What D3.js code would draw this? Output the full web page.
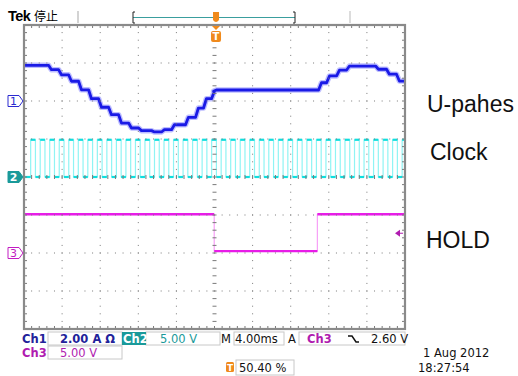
<!DOCTYPE html>
<html>
<head>
<meta charset="utf-8">
<script src="https://cdn.jsdelivr.net/npm/d3@7"></script>
<style>
  body { margin: 0; background: #fff; }
  svg { display: block; }
</style>
</head>
<body>
<div id="scope"></div>
<script>
// ---- data ----
// Ch1 : U phase current (A), sampled / stepped
var ch1Time = [0, 2.73, 3.78, 4.83, 5.88, 6.93, 7.98, 9.03, 10.08, 11.13, 12.18, 13.54, 14.59,
               15.64, 17.11, 18.16, 19.0, 19.84, 20.05, 31.08, 31.92, 32.97, 34.02, 37.06, 38.21, 39.26, 40];
var ch1Amp  = [1.88, 1.65, 1.38, 1.04, 0.59, 0.12, -0.33, -0.72, -1.16, -1.42, -1.56, -1.63, -1.51,
               -1.25, -0.86, -0.37, 0.12, 0.51, 0.58, 0.96, 1.32, 1.63, 1.84, 1.67, 1.41, 1.05, 1.05];
// Ch2 : clock edges (ms) and levels (V)
var ch2Rise = [0.7, 1.7, 2.7, 3.7, 4.7, 5.7, 6.7, 7.7, 8.7, 9.7, 10.7, 11.7, 12.7, 13.7, 14.7, 15.7, 16.7, 17.7, 18.7, 19.7,
               20.7, 21.7, 22.7, 23.7, 24.7, 25.7, 26.7, 27.7, 28.7, 29.7, 30.7, 31.7, 32.7, 33.7, 34.7, 35.7, 36.7, 37.7, 38.7, 39.7];
var ch2Fall = [1.2, 2.2, 3.2, 4.2, 5.2, 6.2, 7.2, 8.2, 9.2, 10.2, 11.2, 12.2, 13.2, 14.2, 15.2, 16.2, 17.2, 18.2, 19.2, 20.2,
               21.2, 22.2, 23.2, 24.2, 25.2, 26.2, 27.2, 28.2, 29.2, 30.2, 31.2, 32.2, 33.2, 34.2, 35.2, 36.2, 37.2, 38.2, 39.2, 40.2];
var ch2Low = 0, ch2High = 4.9;
// Ch3 : HOLD (V)
var ch3Time = [0, 19.97, 30.8, 40];
var ch3Volt = [5.1, 0.25, 5.1, 5.1];

var chScale = [2, 5, 5];       // units per division
var chOffset = [2, 0, -2];     // ground marker, divisions from centre
var triggerLevel = 2.6;        // Ch3 trigger level (V)

var W = 518, H = 376;
var svg = d3.select("#scope").append("svg").attr("width", W).attr("height", H)
  .style("font-family", "'DejaVu Sans', sans-serif");

var x = d3.scaleLinear().domain([0, 40]).range([24, 405]);
var y = d3.scaleLinear().domain([-4, 4]).range([329, 25]);
function yc(ch, v) { return y(chOffset[ch] + v / chScale[ch]); }

svg.append("clipPath").attr("id", "grat")
  .append("rect").attr("x", 24).attr("y", 25).attr("width", 381).attr("height", 304);

//--- traces ---
var traces = svg.append("g").attr("clip-path", "url(#grat)");

// ch2 clock
var clk = [[0, ch2Low]];
ch2Rise.forEach(function(r, i) {
  clk.push([r, ch2Low], [r, ch2High], [ch2Fall[i], ch2High], [ch2Fall[i], ch2Low]);
});
traces.append("path")
  .attr("d", d3.line().x(function(d) { return x(d[0]); }).y(function(d) { return yc(1, d[1]); })(clk))
  .attr("fill", "none").attr("stroke", "#8ff4f4").attr("stroke-width", 1.2);
var plate = traces.append("g").attr("stroke", "#10dede").attr("stroke-width", 2.2);
ch2Rise.forEach(function(r, i) {
  plate.append("line").attr("x1", x(r)).attr("x2", x(ch2Fall[i]))
    .attr("y1", yc(1, ch2High)).attr("y2", yc(1, ch2High));
  var next = i + 1 < ch2Rise.length ? ch2Rise[i + 1] : 40.5;
  plate.append("line").attr("x1", x(ch2Fall[i])).attr("x2", x(next))
    .attr("y1", yc(1, ch2Low)).attr("y2", yc(1, ch2Low));
});
plate.append("line").attr("x1", x(0)).attr("x2", x(ch2Rise[0]))
  .attr("y1", yc(1, ch2Low)).attr("y2", yc(1, ch2Low));

// ch3 HOLD
var hold = ch3Time.map(function(t, i) { return {t: t, v: ch3Volt[i]}; });
var holdLine = d3.line().x(function(d) { return x(d.t); }).y(function(d) { return yc(2, d.v); })
  .curve(d3.curveStepAfter);
traces.append("path").attr("d", holdLine(hold))
  .attr("fill", "none").attr("stroke", "#f7a0f7").attr("stroke-width", 1.2);
hold.slice(0, -1).forEach(function(d, i) {
  traces.append("line").attr("x1", x(d.t)).attr("x2", x(hold[i + 1].t))
    .attr("y1", yc(2, d.v)).attr("y2", yc(2, d.v))
    .attr("stroke", "#e81ce8").attr("stroke-width", 2.4);
});

// ch1 current : each step settles over a short ramp
var ramp = 0.3;
var cur = [{t: ch1Time[0], v: ch1Amp[0]}];
for (var i = 1; i < ch1Time.length; i++) {
  cur.push({t: ch1Time[i] - ramp / 2, v: ch1Amp[i - 1]});
  cur.push({t: ch1Time[i] + ramp / 2, v: ch1Amp[i]});
}
var curLine = d3.line().x(function(d) { return x(d.t); }).y(function(d) { return yc(0, d.v); });
traces.append("path").attr("d", curLine(cur))
  .attr("fill", "none").attr("stroke", "#7b7bff").attr("stroke-width", 5.5).attr("opacity", 0.5)
  .attr("stroke-linejoin", "round");
traces.append("path").attr("d", curLine(cur))
  .attr("fill", "none").attr("stroke", "#1a1ae6").attr("stroke-width", 2.8)
  .attr("stroke-linejoin", "round");

//--- graticule ---
var grid = svg.append("g").attr("fill", "#7a7a7a");
var minor = 38.1 / 5;
for (var k = 1; k < 10; k++) {
  var gx = x(k * 4);
  for (var j = 1; j < 40; j++) {
    var gy = 25 + j * 304 / 40;
    if (k === 5) grid.append("rect").attr("x", gx - 2).attr("y", gy - 0.5).attr("width", 4).attr("height", 1);
    else grid.append("rect").attr("x", gx - 0.5).attr("y", gy - 0.5).attr("width", 1).attr("height", 1);
  }
}
for (var k = -3; k < 4; k++) {
  var gy = y(k);
  for (var j = 1; j < 50; j++) {
    var gx = 24 + j * minor;
    if (k === 0) grid.append("rect").attr("x", gx - 0.5).attr("y", gy - 2).attr("width", 1).attr("height", 4);
    else grid.append("rect").attr("x", gx - 0.5).attr("y", gy - 0.5).attr("width", 1).attr("height", 1);
  }
}
// border ticks
for (var j = 1; j < 50; j++) {
  var bx = 24 + j * minor;
  grid.append("rect").attr("x", bx - 0.5).attr("y", 25).attr("width", 1).attr("height", 3);
  grid.append("rect").attr("x", bx - 0.5).attr("y", 326).attr("width", 1).attr("height", 3);
}
for (var j = 1; j < 40; j++) {
  var by = 25 + j * 304 / 40;
  grid.append("rect").attr("x", 24).attr("y", by - 0.5).attr("width", 3).attr("height", 1);
  grid.append("rect").attr("x", 402).attr("y", by - 0.5).attr("width", 3).attr("height", 1);
}
svg.append("rect").attr("x", 24).attr("y", 25).attr("width", 381).attr("height", 304)
  .attr("fill", "none").attr("stroke", "#8a8a8a").attr("stroke-width", 2.2);

//--- channel ground markers ---
var mkCol = ["#2b2bd0", "#1a9a9a", "#c21cc2"];
chOffset.forEach(function(off, i) {
  var my = y(off);
  svg.append("path")
    .attr("d", "M8," + (my - 5.5) + "H19L23," + my + "L19," + (my + 5.5) + "H8Z")
    .attr("fill", i === 1 ? mkCol[1] : "#fff").attr("stroke", mkCol[i]).attr("stroke-width", 1);
  svg.append("text").attr("x", 13.5).attr("y", my + 4).attr("text-anchor", "middle")
    .attr("font-size", 11).attr("font-weight", i === 1 ? "bold" : "normal")
    .attr("fill", i === 1 ? "#fff" : mkCol[i]).text(i + 1);
});
// trigger level arrow (ch3)
var ty = yc(2, triggerLevel);
svg.append("path").attr("d", "M395," + ty + "L400," + (ty - 3.5) + "V" + (ty + 3.5) + "Z").attr("fill", "#b01cb0");
svg.append("line").attr("x1", 399).attr("x2", 403).attr("y1", ty).attr("y2", ty)
  .attr("stroke", "#b01cb0").attr("stroke-width", 1);

//--- top bar ---
svg.append("text").attr("x", 8).attr("y", 21).attr("font-size", 14.5).attr("font-weight", "bold")
  .attr("font-family", "'Liberation Sans', sans-serif").attr("letter-spacing", -0.6).text("Tek");
svg.append("text").attr("x", 34).attr("y", 21).attr("font-size", 12)
  .attr("font-family", "'Noto Sans CJK SC', sans-serif").text("停止");
svg.append("line").attr("x1", 78).attr("x2", 78).attr("y1", 11).attr("y2", 23).attr("stroke", "#c4c4c4").attr("stroke-width", 1.5);
svg.append("line").attr("x1", 350).attr("x2", 350).attr("y1", 11).attr("y2", 23).attr("stroke", "#d0d0d0").attr("stroke-width", 1.5);
svg.append("line").attr("x1", 133).attr("x2", 295).attr("y1", 17.5).attr("y2", 17.5).attr("stroke", "#3a9e9e").attr("stroke-width", 1);
svg.append("path").attr("d", "M135,12H133V23H135M293,12H295V23H293").attr("fill", "none")
  .attr("stroke", "#222").attr("stroke-width", 1);
var tx = x(20.16);
svg.append("path").attr("d", "M" + (tx - 3) + ",12H" + (tx + 3) + "V20Q" + tx + ",24 " + (tx - 3) + ",20Z").attr("fill", "#f08a1c");
svg.append("path").attr("d", "M" + (tx - 4) + ",26H" + (tx + 4) + "L" + tx + ",30Z").attr("fill", "#f08a1c");
svg.append("rect").attr("x", tx - 5).attr("y", 31).attr("width", 10).attr("height", 11).attr("rx", 2).attr("fill", "#f08a1c");
svg.append("text").attr("x", tx).attr("y", 40).attr("text-anchor", "middle").attr("font-size", 10)
  .attr("font-weight", "bold").attr("fill", "#fff").text("T");

//--- readouts ---
function box(x0, y0, w, h) {
  svg.append("rect").attr("x", x0).attr("y", y0).attr("width", w).attr("height", h)
    .attr("fill", "none").attr("stroke", "#c8c8c8").attr("stroke-width", 1);
}
function label(tx0, ty0, s, col, bold) {
  svg.append("text").attr("x", tx0).attr("y", ty0).attr("font-size", 11.5)
    .attr("font-weight", bold ? "bold" : "normal").attr("fill", col).text(s);
}
box(48, 332, 74, 13); box(146, 332, 74, 13); box(234, 332, 50, 13); box(299, 332, 106, 13);
box(48, 346, 74, 13); box(236, 360, 58, 15);
svg.append("rect").attr("x", 122).attr("y", 332).attr("width", 24).attr("height", 13).attr("fill", "#1a9a9a");
label(22, 343, "Ch1", "#22229a", true);
label(60, 343, "2.00 A Ω", "#22229a", true);
label(123, 343, "Ch2", "#fff", true);
label(160, 343, "5.00 V", "#1a9a9a", false);
label(221, 343, "M", "#111", false);
label(235, 343, "4.00ms", "#111", false);
label(288, 343, "A", "#111", false);
label(307, 343, "Ch3", "#b01cb0", true);
svg.append("path").attr("d", "M348,336H352L356,342H359").attr("fill", "none").attr("stroke", "#111").attr("stroke-width", 1.5);
label(371, 343, "2.60 V", "#111", false);
label(22, 357, "Ch3", "#b01cb0", true);
label(60, 357, "5.00 V", "#b01cb0", false);
svg.append("rect").attr("x", 226).attr("y", 362).attr("width", 8).attr("height", 10).attr("rx", 1.5).attr("fill", "#f08a1c");
svg.append("text").attr("x", 230).attr("y", 370.5).attr("text-anchor", "middle").attr("font-size", 9)
  .attr("font-weight", "bold").attr("fill", "#fff").text("T");
label(239, 372, "50.40 %", "#111", false);
label(423, 357, "1 Aug 2012", "#111", false);
label(418, 372, "18:27:54", "#111", false);

//--- annotation labels ---
var notes = [["U-pahes", 427, 112], ["Clock", 430, 160], ["HOLD", 426, 248]];
svg.selectAll("text.note").data(notes).enter().append("text").attr("class", "note")
  .attr("x", function(d) { return d[1]; }).attr("y", function(d) { return d[2]; })
  .attr("font-family", "'Liberation Sans', Arial, sans-serif").attr("font-size", 23)
  .attr("fill", "#111").text(function(d) { return d[0]; });
</script>
</body>
</html>
